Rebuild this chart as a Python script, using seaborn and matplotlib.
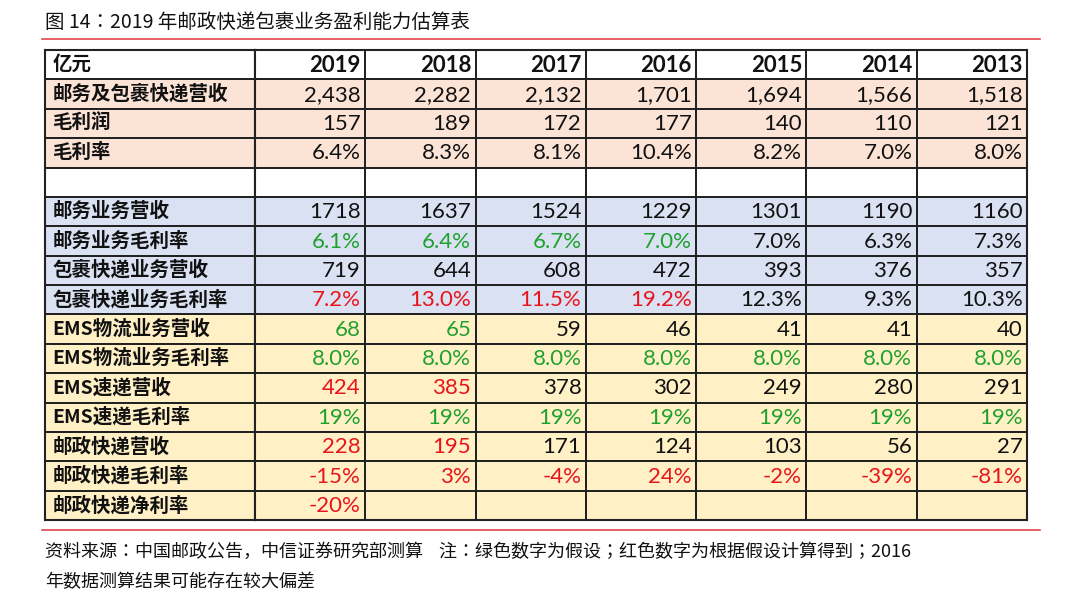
import matplotlib
matplotlib.use("Agg")
import matplotlib.pyplot as plt
import seaborn as sns
import numpy as np
from matplotlib.colors import ListedColormap
from matplotlib.lines import Line2D

CJK = ["Noto Sans CJK SC", "Noto Sans CJK JP", "Noto Sans CJK TC", "Noto Sans CJK KR", "DejaVu Sans"]
NUM = ["Lato"] + CJK
plt.rcParams["font.family"] = "sans-serif"
plt.rcParams["font.sans-serif"] = CJK

years = ["2019", "2018", "2017", "2016", "2015", "2014", "2013"]
row_labels = ["亿元", "邮务及包裹快递营收", "毛利润", "毛利率", "", "邮务业务营收", "邮务业务毛利率",
              "包裹快递业务营收", "包裹快递业务毛利率", "EMS物流业务营收", "EMS物流业务毛利率",
              "EMS速递营收", "EMS速递毛利率", "邮政快递营收", "邮政快递毛利率", "邮政快递净利率"]
cells = [
    years,
    ["2,438", "2,282", "2,132", "1,701", "1,694", "1,566", "1,518"],
    ["157", "189", "172", "177", "140", "110", "121"],
    ["6.4%", "8.3%", "8.1%", "10.4%", "8.2%", "7.0%", "8.0%"],
    [""] * 7,
    ["1718", "1637", "1524", "1229", "1301", "1190", "1160"],
    ["6.1%", "6.4%", "6.7%", "7.0%", "7.0%", "6.3%", "7.3%"],
    ["719", "644", "608", "472", "393", "376", "357"],
    ["7.2%", "13.0%", "11.5%", "19.2%", "12.3%", "9.3%", "10.3%"],
    ["68", "65", "59", "46", "41", "41", "40"],
    ["8.0%"] * 7,
    ["424", "385", "378", "302", "249", "280", "291"],
    ["19%"] * 7,
    ["228", "195", "171", "124", "103", "56", "27"],
    ["-15%", "3%", "-4%", "24%", "-2%", "-39%", "-81%"],
    ["-20%", "", "", "", "", "", ""],
]
text_codes = [
    "kkkkkkk", "kkkkkkk", "kkkkkkk", "kkkkkkk", "kkkkkkk", "kkkkkkk",
    "ggggkkk", "kkkkkkk", "rrrrkkk", "ggkkkkk", "ggggggg", "rrkkkkk",
    "ggggggg", "rrkkkkk", "rrrrrrr", "rkkkkkk",
]
row_group = [0, 1, 1, 1, 0, 2, 2, 2, 2, 3, 3, 3, 3, 3, 3, 3]
bg_colors = ["#FFFFFF", "#FBE3D6", "#D9E1F2", "#FFF0C6"]
txt_colors = {"k": "#111111", "g": "#1FA12E", "r": "#E8141B"}

W, H = 1080, 607
fig = plt.figure(figsize=(W / 100, H / 100), dpi=100)
cmap = ListedColormap(bg_colors)
top, bot = 50, 520
def ax_at(x0, x1):
    return fig.add_axes([x0 / W, 1 - bot / H, (x1 - x0) / W, (bot - top) / H])

axL = ax_at(45, 255)
axR = ax_at(255, 1027)
matL = np.array(row_group, dtype=float).reshape(-1, 1)
matR = np.repeat(matL, 7, axis=1)
for ax, mat in [(axL, matL), (axR, matR)]:
    sns.heatmap(mat, ax=ax, cmap=cmap, vmin=-0.5, vmax=3.5, cbar=False,
                linewidths=1.3, linecolor="#222222", xticklabels=False, yticklabels=False)
    for s in ax.spines.values():
        s.set_visible(True)
        s.set_linewidth(1.5)
        s.set_color("#222222")

for i, lab in enumerate(row_labels):
    axL.text(0.035, i + 0.5, lab, ha="left", va="center", fontsize=14, fontweight="bold",
             color="#111111", fontfamily=CJK)
for i, row in enumerate(cells):
    for j, v in enumerate(row):
        axR.text(j + 0.96, i + 0.52, v, ha="right", va="center", fontsize=16,
                 fontweight="bold" if i == 0 else "normal", color=txt_colors[text_codes[i][j]],
                 fontfamily=NUM)

fig.text(45 / W, 1 - 22 / H, "图 14：2019 年邮政快递包裹业务盈利能力估算表", ha="left", va="center",
         fontsize=14, color="#111111", fontfamily=CJK)
fig.add_artist(Line2D([42 / W, 1040 / W], [1 - 39 / H] * 2, color="#E0464E", lw=1.2))
fig.add_artist(Line2D([42 / W, 1040 / W], [1 - 530 / H] * 2, color="#E0464E", lw=1.2))
fig.text(45 / W, 1 - 552 / H, "资料来源：中国邮政公告，中信证券研究部测算    注：绿色数字为假设；红色数字为根据假设计算得到；2016",
         ha="left", va="center", fontsize=13, color="#111111", fontfamily=CJK)
fig.text(45 / W, 1 - 582 / H, "年数据测算结果可能存在较大偏差", ha="left", va="center", fontsize=13,
         color="#111111", fontfamily=CJK)

fig.savefig("out.png", dpi=100, facecolor="white")
